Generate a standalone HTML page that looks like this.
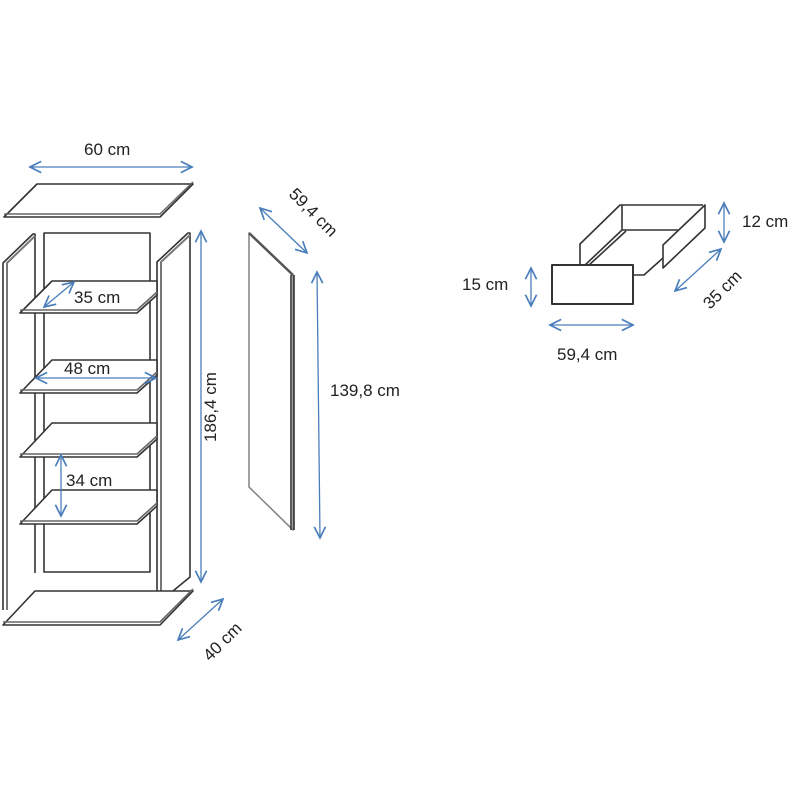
<!DOCTYPE html>
<html><head><meta charset="utf-8"><style>
html,body{margin:0;padding:0;background:#fff;}
svg{display:block;}
text{font-family:"Liberation Sans","DejaVu Sans",sans-serif;font-size:17px;fill:#222;}
</style></head><body>
<svg width="800" height="800" viewBox="0 0 800 800" xmlns="http://www.w3.org/2000/svg">
<defs>
<marker id="a" viewBox="0 0 10 10" refX="9" refY="5" markerWidth="14" markerHeight="14" markerUnits="userSpaceOnUse" orient="auto-start-reverse">
<path d="M1,1 L9,5 L1,9" fill="none" stroke="#4a7ebb" stroke-width="1.2"/>
</marker>
</defs>
<g fill="none" stroke="#333" stroke-width="1.6" stroke-linejoin="round">
<path d="M4,217 L160,217 L193,184 L37,184 Z" fill="#fff"/>
<path d="M4,214 L160,214 L193,182" stroke="#666" stroke-width="1.5"/>
<rect x="44" y="233" width="106" height="339" fill="#fff"/>
<path d="M3,610 L3,263 L33,234 L35,234 L35,573" fill="#fff"/>
<path d="M7,610 L7,263 L35,236" stroke="#777" stroke-width="2"/>
<path d="M157,600 L157,262 L188,233 L190,233 L190,577 L162,600 Z" fill="#fff"/>
<path d="M161,600 L161,262 L190,235" stroke="#777" stroke-width="2"/>
<path d="M20,313 L137,313 L157,295 L157,281 L52,281 Z" fill="#fff"/>
<path d="M20,310 L137,310 L157,292" stroke="#666"/>
<path d="M20,393 L137,393 L157,375 L157,360 L52,360 Z" fill="#fff"/>
<path d="M20,390 L137,390 L157,372" stroke="#666"/>
<path d="M20,457 L137,457 L157,439 L157,423 L52,423 Z" fill="#fff"/>
<path d="M20,454 L137,454 L157,436" stroke="#666"/>
<path d="M20,524 L137,524 L157,506 L157,490 L52,490 Z" fill="#fff"/>
<path d="M20,521 L137,521 L157,503" stroke="#666"/>
<path d="M3,625 L160,625 L193,591 L35,591 Z" fill="#fff"/>
<path d="M3,622 L160,622 L193,589" stroke="#666"/>
<path d="M249,233 L293,275 L293,530 L249,487 Z" fill="#fff" stroke="#888"/>
<path d="M249,233 L293,275" stroke="#555" stroke-width="2.5"/>
<path d="M291,275 L291,530 M294,275 L294,530" stroke="#333"/>
<path d="M580,266 L580,244 L620,205 L703,205 M622,205 L622,230 L678,230 M584,266 L622,230 M588,266 L626,231" />
<path d="M663,245 L705,205 L705,228 L663,268 Z" fill="#fff"/>
<path d="M634,275 L644,275 L663,258"/>
<rect x="552" y="265" width="81" height="39" fill="#fff" stroke-width="2"/>
</g>
<g fill="none" stroke="#4a7ebb" stroke-width="1.3" marker-start="url(#a)" marker-end="url(#a)">
<line x1="30" y1="167" x2="192" y2="167"/>
<line x1="201" y1="231" x2="201" y2="582"/>
<line x1="44" y1="307" x2="74" y2="282"/>
<line x1="36" y1="378" x2="156" y2="378"/>
<line x1="61" y1="455" x2="61" y2="516"/>
<line x1="178" y1="640" x2="223" y2="599"/>
<line x1="260" y1="208" x2="307" y2="253"/>
<line x1="317" y1="272" x2="320" y2="538"/>
<line x1="724" y1="203" x2="724" y2="242"/>
<line x1="675" y1="291" x2="721" y2="249"/>
<line x1="531" y1="268" x2="531" y2="306"/>
<line x1="550" y1="325" x2="633" y2="325"/>
</g>
<text x="84" y="155">60 cm</text>
<text x="74" y="303">35 cm</text>
<text x="64" y="374">48 cm</text>
<text x="66" y="486">34 cm</text>
<text transform="translate(216,442) rotate(-90)">186,4 cm</text>
<text transform="translate(210,662) rotate(-45)">40 cm</text>
<text transform="translate(288,195) rotate(45)">59,4 cm</text>
<text x="330" y="396">139,8 cm</text>
<text x="742" y="227">12 cm</text>
<text transform="translate(710,310) rotate(-45)">35 cm</text>
<text x="462" y="290">15 cm</text>
<text x="557" y="360">59,4 cm</text>
</svg>
</body></html>
